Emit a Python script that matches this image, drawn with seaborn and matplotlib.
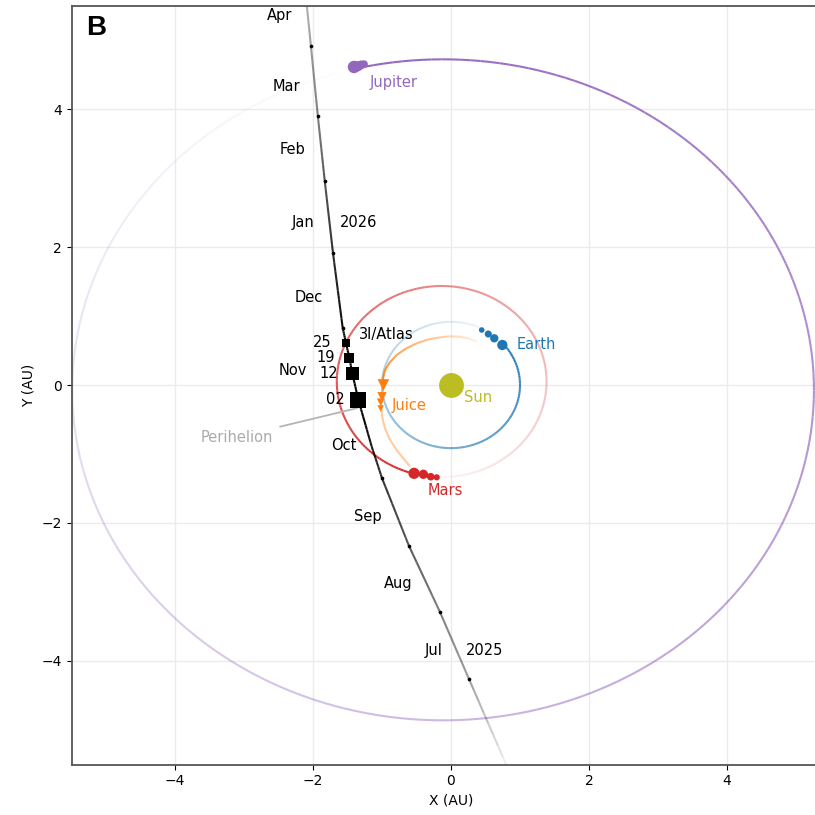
import numpy as np
import pandas as pd
import matplotlib.pyplot as plt
import matplotlib.colors as mcolors
import seaborn as sns

# --- data (AU, equatorial frame) ---
# 3I/Atlas path, ordered in time (first / last point are where it leaves the axes)
atlas_path_x = [0.82, 0.26, -0.16, -0.61, -1.00, -1.15, -1.29, -1.343, -1.43, -1.474, -1.522, -1.57, -1.71, -1.83, -1.93, -2.03, -2.10]
atlas_path_y = [-5.55, -4.26, -3.29, -2.33, -1.35, -0.89, -0.40, -0.217, 0.17, 0.396, 0.609, 0.83, 1.91, 2.96, 3.90, 4.91, 5.60]
atlas_path_alpha = [0.05, 0.38, 0.5, 0.64, 0.8, 0.9, 1.0, 1.0, 1.0, 1.0, 1.0, 0.95, 0.82, 0.66, 0.5, 0.38, 0.3]

months = ['Jul', 'Aug', 'Sep', 'Oct', 'Nov', 'Dec', 'Jan', 'Feb', 'Mar', 'Apr']
month_x = [0.26, -0.16, -0.61, -1.00, -1.335, -1.57, -1.71, -1.83, -1.93, -2.03]
month_y = [-4.26, -3.29, -2.33, -1.35, -0.25, 0.83, 1.91, 2.96, 3.90, 4.91]
month_label_x = [-0.254, -0.768, -1.203, -1.551, -2.290, -2.058, -2.145, -2.290, -2.391, -2.478]
month_label_y = [-3.855, -2.884, -1.899, -0.884, 0.217, 1.275, 2.362, 3.406, 4.333, 5.362]

days = ['02', '12', '19', '25']
atlas_x = [-1.343, -1.430, -1.474, -1.522]
atlas_y = [-0.217, 0.170, 0.396, 0.609]
earth_x = [0.744, 0.627, 0.540, 0.445]
earth_y = [0.580, 0.677, 0.739, 0.797]
mars_x = [-0.536, -0.400, -0.294, -0.207]
mars_y = [-1.280, -1.294, -1.329, -1.338]
juice_x = [-0.98, -1.00, -1.02, -1.02]
juice_y = [0.00, -0.17, -0.25, -0.34]
jupiter_x = [-1.406, -1.35, -1.30, -1.26]
jupiter_y = [4.609, 4.62, 4.64, 4.65]

# orbit ellipses: centre x, centre y, semi-axis x, semi-axis y
earth_orbit = [0.0, 0.0, 1.0, 0.915]
mars_orbit = [-0.135, 0.05, 1.52, 1.385]
jupiter_orbit = [-0.115, -0.07, 5.375, 4.79]

# Juice track, past part then future part
juice_past_x = [0.37, 0.25, 0.13, -0.02, -0.16, -0.33, -0.497, -0.65, -0.787, -0.885, -0.957, -0.985, -0.98]
juice_past_y = [0.63, 0.675, 0.70, 0.705, 0.69, 0.66, 0.604, 0.53, 0.435, 0.33, 0.217, 0.10, 0.00]
juice_future_x = [-0.98, -1.00, -1.01, -1.00, -0.96, -0.884, -0.76, -0.594]
juice_future_y = [0.00, -0.17, -0.30, -0.45, -0.62, -0.797, -0.98, -1.18]

C_EARTH, C_MARS, C_JUICE = '#1f77b4', '#d62728', '#ff7f0e'
C_JUP, C_SUN = '#9467bd', '#bcbd22'

fig = plt.figure(figsize=(8.15, 8.15), dpi=100)
ax = fig.add_axes([71.5 / 815, 1 - 764.5 / 815, 759 / 815, 759 / 815])


def fade_line(xs, ys, color, alphas, lw=1.5, sub=8):
    # one short line per step so the opacity can change along the track
    rows, pal = [], {}
    k = 0
    for i in range(len(xs) - 1):
        for j in range(sub):
            f0, f1 = j / sub, (j + 1) / sub
            key = f's{k}'
            rows.append((key, xs[i] + f0 * (xs[i + 1] - xs[i]), ys[i] + f0 * (ys[i + 1] - ys[i])))
            rows.append((key, xs[i] + f1 * (xs[i + 1] - xs[i]), ys[i] + f1 * (ys[i + 1] - ys[i])))
            a = alphas[i] + (f0 + f1) / 2 * (alphas[i + 1] - alphas[i])
            pal[key] = mcolors.to_rgba(color, a)
            k += 1
    df = pd.DataFrame(rows, columns=['seg', 'x', 'y'])
    sns.lineplot(data=df, x='x', y='y', hue='seg', palette=pal, sort=False,
                 estimator=None, legend=False, lw=lw, ax=ax, solid_capstyle='butt')


def orbit(params, px, py, color):
    cx, cy, a, b = params
    t0 = np.arctan2((py - cy) / b, (px - cx) / a)
    t = np.linspace(t0 - 2 * np.pi, t0, 240)
    xs, ys = cx + a * np.cos(t), cy + b * np.sin(t)
    fade_line(list(xs), list(ys), color, list(np.linspace(0.0, 1.0, len(t))), sub=1)


orbit(jupiter_orbit, jupiter_x[0], jupiter_y[0], C_JUP)
orbit(mars_orbit, mars_x[0], mars_y[0], C_MARS)
orbit(earth_orbit, earth_x[0], earth_y[0], C_EARTH)
fade_line(juice_past_x, juice_past_y, C_JUICE, list(np.linspace(0.1, 1.0, len(juice_past_x))), sub=2)
fade_line(juice_future_x, juice_future_y, C_JUICE, [0.4] * len(juice_future_x), sub=1)
fade_line(atlas_path_x, atlas_path_y, 'black', atlas_path_alpha)

# markers: size shrinks with date
sns.scatterplot(x=earth_x, y=earth_y, size=days, sizes={'02': 55, '12': 36, '19': 26, '25': 16},
                color=C_EARTH, lw=0, legend=False, ax=ax, zorder=5)
sns.scatterplot(x=mars_x, y=mars_y, size=days, sizes={'02': 65, '12': 45, '19': 30, '25': 20},
                color=C_MARS, lw=0, legend=False, ax=ax, zorder=5)
sns.scatterplot(x=jupiter_x, y=jupiter_y, size=days, sizes={'02': 80, '12': 55, '19': 40, '25': 30},
                color=C_JUP, lw=0, legend=False, ax=ax, zorder=5)
sns.scatterplot(x=juice_x, y=juice_y, size=days, sizes={'02': 70, '12': 45, '19': 30, '25': 22},
                marker='v', color=C_JUICE, lw=0, legend=False, ax=ax, zorder=5)
sns.scatterplot(x=month_x, y=month_y, s=7, color='black', lw=0, legend=False, ax=ax, zorder=5)
sns.scatterplot(x=atlas_x, y=atlas_y, size=days, sizes={'02': 135, '12': 90, '19': 55, '25': 36},
                marker='s', color='black', lw=0, legend=False, ax=ax, zorder=6)
sns.scatterplot(x=[0], y=[0], s=320, color=C_SUN, lw=0, legend=False, ax=ax, zorder=5)

# labels
fs = 10.5
for m, lx, ly in zip(months, month_label_x, month_label_y):
    ax.text(lx, ly, m, ha='center', va='center', fontsize=fs)
ax.text(0.217, -3.855, '2025', ha='left', va='center', fontsize=fs)
ax.text(-1.61, 2.362, '2026', ha='left', va='center', fontsize=fs)
for d, x, y in zip(days, atlas_x, atlas_y):
    ax.annotate(d, (x, y), xytext=(-14, 0), textcoords='offset pixels', ha='right', va='center', fontsize=fs)
ax.text(-1.333, 0.725, '3I/Atlas', ha='left', va='center', fontsize=fs)
ax.text(0.952, 0.59, 'Earth', ha='left', va='center', fontsize=fs, color=C_EARTH)
ax.text(0.193, -0.178, 'Sun', ha='left', va='center', fontsize=fs, color=C_SUN)
ax.text(-0.86, -0.29, 'Juice', ha='left', va='center', fontsize=fs, color=C_JUICE)
ax.text(-0.338, -1.53, 'Mars', ha='left', va='center', fontsize=fs, color=C_MARS)
ax.text(-1.174, 4.38, 'Jupiter', ha='left', va='center', fontsize=fs, color=C_JUP)
ax.annotate('Perihelion', (-1.36, -0.335), xytext=(-3.10, -0.754), ha='center', va='center',
            fontsize=fs, color='#aaaaaa',
            arrowprops=dict(arrowstyle='-', color='#b4b4b4', lw=1.3, shrinkA=3, shrinkB=0))
ax.text(0.019, 0.97, 'B', transform=ax.transAxes, ha='left', va='center',
        fontsize=20, fontweight='bold', family='Liberation Sans')

ax.set_xlim(-5.5, 5.5)
ax.set_ylim(-5.5, 5.5)
ax.set_xticks([-4, -2, 0, 2, 4])
ax.set_yticks([-4, -2, 0, 2, 4])
ax.tick_params(labelsize=10)
ax.grid(color='#ebebeb', lw=1)
ax.set_axisbelow(True)
for sp in ax.spines.values():
    sp.set_color('#555555')
    sp.set_linewidth(1.3)
ax.set_xlabel('X (AU)', fontsize=10)
ax.set_ylabel('Y (AU)', fontsize=10)

fig.savefig('out.png', dpi=100)
